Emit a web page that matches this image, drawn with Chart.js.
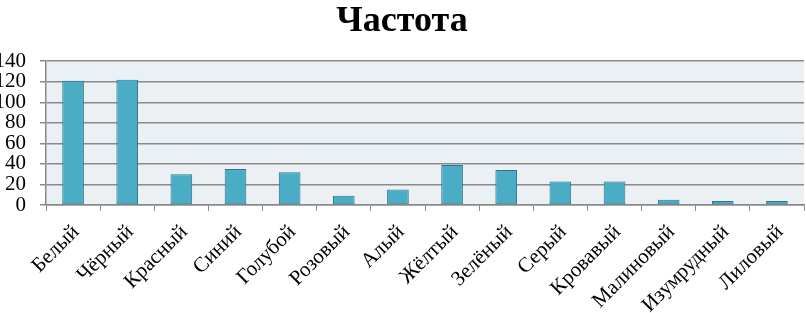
<!DOCTYPE html>
<html>
<head>
<meta charset="utf-8">
<script src="https://cdn.jsdelivr.net/npm/chart.js@4.4.0/dist/chart.umd.min.js"></script>
<style>
  html, body { margin: 0; padding: 0; background: #fff; }
  #wrap { width: 806px; height: 313px; }
</style>
</head>
<body>
<div id="wrap"><canvas id="chart" width="806" height="313"></canvas></div>
<script>
// Частота по цветам
const colors = ['Белый', 'Чёрный', 'Красный', 'Синий', 'Голубой', 'Розовый', 'Алый',
  'Жёлтый', 'Зелёный', 'Серый', 'Кровавый', 'Малиновый', 'Изумрудный', 'Лиловый'];
const frequency = [121, 122, 30, 35, 32, 9, 15, 39, 34, 23, 23, 5, 4, 4];
const yMax = 140;
const yStep = 20;

const serif = "'Liberation Serif', 'Times New Roman', serif";

// light plot-area background
const plotBackground = {
  id: 'plotBackground',
  beforeDraw(chart) {
    const { ctx, chartArea } = chart;
    ctx.save();
    ctx.fillStyle = '#eaf0f3';
    ctx.fillRect(chartArea.left, chartArea.top, chartArea.right - chartArea.left, chartArea.bottom - chartArea.top);
    ctx.restore();
  }
};

new Chart(document.getElementById('chart').getContext('2d'), {
  type: 'bar',
  data: {
    labels: colors,
    datasets: [{
      label: 'Частота',
      data: frequency,
      backgroundColor: '#4bacc6',
      borderColor: '#2f7488',
      borderWidth: 1,
      borderSkipped: false,
      barPercentage: 0.4,
      categoryPercentage: 1
    }]
  },
  options: {
    responsive: false,
    animation: false,
    layout: { padding: { left: 0, right: 2, top: 0, bottom: 0 } },
    plugins: {
      legend: { display: false },
      tooltip: { enabled: false },
      title: {
        display: true,
        text: 'Частота',
        color: '#000',
        font: { family: serif, size: 36, weight: 'bold' },
        padding: { top: 0, bottom: 18 }
      }
    },
    scales: {
      x: {
        afterFit(scale) {
          scale.height = 108;
        },
        grid: { drawOnChartArea: false, drawTicks: true, tickLength: 6, color: '#8a8a8a', lineWidth: 1 },
        border: { color: '#8a8a8a', width: 1.5 },
        ticks: {
          color: '#000',
          font: { family: serif, size: 21 },
          maxRotation: 45,
          minRotation: 45,
          autoSkip: false,
          padding: 9,
          labelOffset: 3
        }
      },
      y: {
        min: 0,
        max: yMax,
        afterFit(scale) {
          scale.width = 46;
        },
        grid: { color: '#8a8a8a', lineWidth: 1.5, tickLength: 6 },
        border: { color: '#8a8a8a', width: 1.5 },
        ticks: {
          stepSize: yStep,
          autoSkip: false,
          color: '#000',
          font: { family: serif, size: 21 },
          padding: 14
        }
      }
    }
  },
  plugins: [plotBackground]
});
</script>
</body>
</html>
